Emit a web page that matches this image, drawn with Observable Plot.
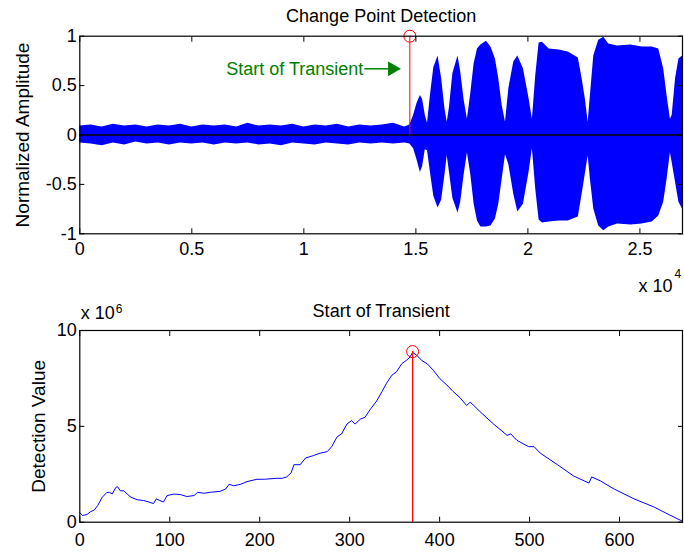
<!DOCTYPE html>
<html><head><meta charset="utf-8">
<script src="https://cdn.jsdelivr.net/npm/d3@7"></script>
<script src="https://cdn.jsdelivr.net/npm/@observablehq/plot@0.6"></script>
<style>
body{margin:0;background:#fff;}
#c{width:684px;height:558px;overflow:hidden;}
#c svg{display:block;}
</style>
</head><body><div id="c"></div>
<script>
// ---- Top panel: signal envelope (sample index, upper / lower envelope of the normalized amplitude)
const sampleIdx = [0,500,1000,1500,2000,2500,3000,3500,4000,4500,5000,5500,6000,6500,7000,7500,8000,8500,9000,9500,10000,10500,11000,11500,12000,12500,13000,13500,14000,14500,14730,
  14900,15050,15200,15300,15420,15520,15650,15800,15990,16150,16300,16400,16500,16650,16880,17000,17150,17300,17450,17600,17750,17900,18150,18350,18550,18700,18850,19000,
  19150,19370,19550,19800,20050,20200,20350,20500,20650,20950,21400,21800,22250,22420,22560,22690,22790,22940,23160,23390,23610,24000,24600,25100,25550,25840,26060,26210,26360,
  26440,26590,26740,26900];
const upperEnv = [0.09,0.10,0.08,0.11,0.09,0.10,0.08,0.10,0.09,0.11,0.08,0.10,0.09,0.10,0.08,0.12,0.09,0.10,0.09,0.11,0.08,0.10,0.09,0.11,0.08,0.10,0.09,0.10,0.12,0.08,0.10,
  0.20,0.32,0.40,0.36,0.20,0.12,0.40,0.68,0.80,0.57,0.26,0.13,0.28,0.62,0.80,0.64,0.36,0.16,0.42,0.72,0.87,0.91,0.95,0.89,0.77,0.57,0.30,0.13,
  0.47,0.74,0.80,0.67,0.37,0.16,0.60,0.93,0.94,0.87,0.86,0.84,0.78,0.57,0.37,0.13,0.40,0.80,0.96,0.99,0.92,0.90,0.91,0.89,0.89,0.87,0.67,0.40,0.16,
  0.20,0.57,0.77,0.80];
const lowerEnv = [-0.08,-0.09,-0.11,-0.08,-0.10,-0.07,-0.09,-0.08,-0.10,-0.08,-0.09,-0.08,-0.10,-0.08,-0.09,-0.08,-0.10,-0.09,-0.11,-0.08,-0.09,-0.10,-0.08,-0.09,-0.10,-0.08,-0.09,-0.08,-0.09,-0.08,-0.09,
  -0.14,-0.25,-0.38,-0.32,-0.15,-0.16,-0.38,-0.62,-0.74,-0.66,-0.40,-0.21,-0.38,-0.64,-0.79,-0.68,-0.41,-0.18,-0.40,-0.70,-0.87,-0.93,-0.93,-0.92,-0.85,-0.70,-0.45,-0.20,
  -0.30,-0.60,-0.78,-0.70,-0.38,-0.14,-0.55,-0.86,-0.89,-0.88,-0.87,-0.87,-0.83,-0.60,-0.40,-0.21,-0.45,-0.75,-0.92,-0.97,-0.93,-0.90,-0.91,-0.90,-0.88,-0.82,-0.68,-0.45,-0.18,
  -0.28,-0.48,-0.68,-0.75];
const changePointSample = 14730;
const xTicksTop = [0,5000,10000,15000,20000,25000];
const yTicksTop = [-1,-0.5,0,0.5,1];
const titleTop = "Change Point Detection";
const yLabelTop = "Normalized Amplitude";
const annotationText = "Start of Transient";
const annotationFrom = 12700, annotationTo = 14350, annotationY = 0.67;

// ---- Bottom panel: detection statistic (x 10^6)
const detIdx = [0,3,8,12,16,20,25,30,33,36,40,42,45,49,53,57,64,71,77,82,85,89,93,97,105,112,119,127,131,138,145,156,162,166,171,179,186,197,205,219,225,230,235,238,245,251,260,267,275,280,286,291,297,302,306,312,317,323,330,336,341,347,352,358,363,367,370,375,380,386,393,400,408,415,423,430,434,438,446,460,475,479,486,499,505,512,531,549,566,569,579,594,616,638,656,670];
const detValue = [0.50,0.35,0.40,0.55,0.63,0.88,1.30,1.55,1.56,1.47,1.81,1.85,1.64,1.64,1.45,1.30,1.17,1.13,1.05,0.97,1.22,1.13,1.05,1.39,1.47,1.44,1.34,1.39,1.56,1.51,1.56,1.61,1.73,1.98,1.90,1.98,2.12,2.24,2.24,2.29,2.29,2.36,2.58,3.00,3.00,3.35,3.48,3.60,3.68,3.94,4.45,4.61,5.12,5.30,5.12,5.38,5.47,5.89,6.32,6.82,7.25,7.67,7.84,8.27,8.44,8.61,8.86,8.69,8.44,8.27,7.93,7.50,7.16,6.82,6.48,6.09,6.26,6.09,5.72,5.12,4.53,4.61,4.27,3.94,3.94,3.60,3.00,2.41,2.04,2.36,2.15,1.73,1.22,0.80,0.37,0.05];
const peakIdx = 370, peakValue = 8.9;
const xTicksBottom = [0,100,200,300,400,500,600];
const yTicksBottom = [0,5,10];
const titleBottom = "Start of Transient";
const yLabelBottom = "Detection Value";

const FONT = "'Liberation Sans', Arial, Helvetica, sans-serif";
const envelope = sampleIdx.map((s,i)=>({s, hi:upperEnv[i], lo:lowerEnv[i]}));
const detection = detIdx.map((s,i)=>({s, v:detValue[i]}));
const fmt = d => String(d);

const topPlot = Plot.plot({
  width:684, height:296,
  marginLeft:79.3, marginRight:2, marginTop:35.7, marginBottom:62.7,
  style:{fontFamily:FONT, fontSize:"18px", color:"#000", background:"#fff"},
  x:{domain:[0,26900]},
  y:{domain:[-1,1]},
  marks:[
    Plot.areaY(envelope,{x:"s", y1:"lo", y2:"hi", fill:"#0000ff"}),
    Plot.ruleY([0],{stroke:"#000", strokeWidth:1.5}),
    Plot.ruleX([changePointSample],{y1:0, y2:1, stroke:"#ff0000", strokeWidth:1}),
    Plot.dot([changePointSample],{x:d=>d, y:1, r:6, stroke:"#ff0000", strokeWidth:1}),
    Plot.link([annotationY],{x1:annotationFrom, x2:annotationTo-300, y1:d=>d, y2:d=>d, stroke:"#008000", strokeWidth:1.5}),
    Plot.dot([annotationY],{x:annotationTo-400, y:d=>d, symbol:"triangle", rotate:90, r:5.5, fill:"#008000", stroke:null}),
    Plot.text([annotationText],{x:annotationFrom, y:annotationY, text:d=>d, textAnchor:"end", fill:"#008000", fontSize:18, dx:-1}),
    Plot.frame({stroke:"#000", strokeWidth:1.2}),
    Plot.axisX({ticks:xTicksTop, anchor:"bottom", tickSize:-5, tickPadding:13, tickFormat:d=>String(d/1e4), label:null}),
    Plot.axisX({ticks:xTicksTop, anchor:"top", tickSize:-5, tickFormat:()=>"", label:null}),
    Plot.axisY({ticks:yTicksTop, anchor:"left", tickSize:-5, tickPadding:8, tickFormat:fmt, label:null}),
    Plot.axisY({ticks:yTicksTop, anchor:"right", tickSize:-5, tickFormat:()=>"", label:null}),
    Plot.text([titleTop],{frameAnchor:"top", dy:-27, text:d=>d, fontSize:18}),
    Plot.text([yLabelTop],{frameAnchor:"left", dx:-57, rotate:-90, textAnchor:"middle", text:d=>d, fontSize:19}),
    Plot.text(["x 10"],{frameAnchor:"bottom-right", dx:-10, dy:58.5, lineAnchor:"bottom", textAnchor:"end", text:d=>d, fontSize:18}),
    Plot.text(["4"],{frameAnchor:"bottom-right", dx:-8, dy:44, lineAnchor:"bottom", textAnchor:"start", text:d=>d, fontSize:12})
  ]
});

const bottomPlot = Plot.plot({
  width:684, height:262,
  marginLeft:79.3, marginRight:2, marginTop:34, marginBottom:36.3,
  style:{fontFamily:FONT, fontSize:"18px", color:"#000", background:"#fff"},
  x:{domain:[0,670]},
  y:{domain:[0,10]},
  marks:[
    Plot.line(detection,{x:"s", y:"v", stroke:"#0000ff", strokeWidth:1}),
    Plot.ruleX([peakIdx],{y1:0, y2:peakValue, stroke:"#ff0000", strokeWidth:1.2}),
    Plot.dot([peakIdx],{x:d=>d, y:peakValue, r:6, stroke:"#ff0000", strokeWidth:1}),
    Plot.frame({stroke:"#000", strokeWidth:1.2}),
    Plot.axisX({ticks:xTicksBottom, anchor:"bottom", tickSize:-5, tickPadding:16, tickFormat:fmt, label:null}),
    Plot.axisX({ticks:xTicksBottom, anchor:"top", tickSize:-5, tickFormat:()=>"", label:null}),
    Plot.axisY({ticks:yTicksBottom, anchor:"left", tickSize:-5, tickPadding:8, tickFormat:fmt, label:null}),
    Plot.axisY({ticks:yTicksBottom, anchor:"right", tickSize:-5, tickFormat:()=>"", label:null}),
    Plot.text([titleBottom],{frameAnchor:"top", dy:-26, text:d=>d, fontSize:18}),
    Plot.text([yLabelBottom],{frameAnchor:"left", dx:-41, rotate:-90, textAnchor:"middle", text:d=>d, fontSize:19}),
    Plot.text(["x 10"],{frameAnchor:"top-left", dx:1, dy:-11.7, lineAnchor:"bottom", textAnchor:"start", text:d=>d, fontSize:18}),
    Plot.text(["6"],{frameAnchor:"top-left", dx:36, dy:-18, lineAnchor:"bottom", textAnchor:"start", text:d=>d, fontSize:12})
  ]
});

document.getElementById("c").append(topPlot, bottomPlot);
</script></body></html>
